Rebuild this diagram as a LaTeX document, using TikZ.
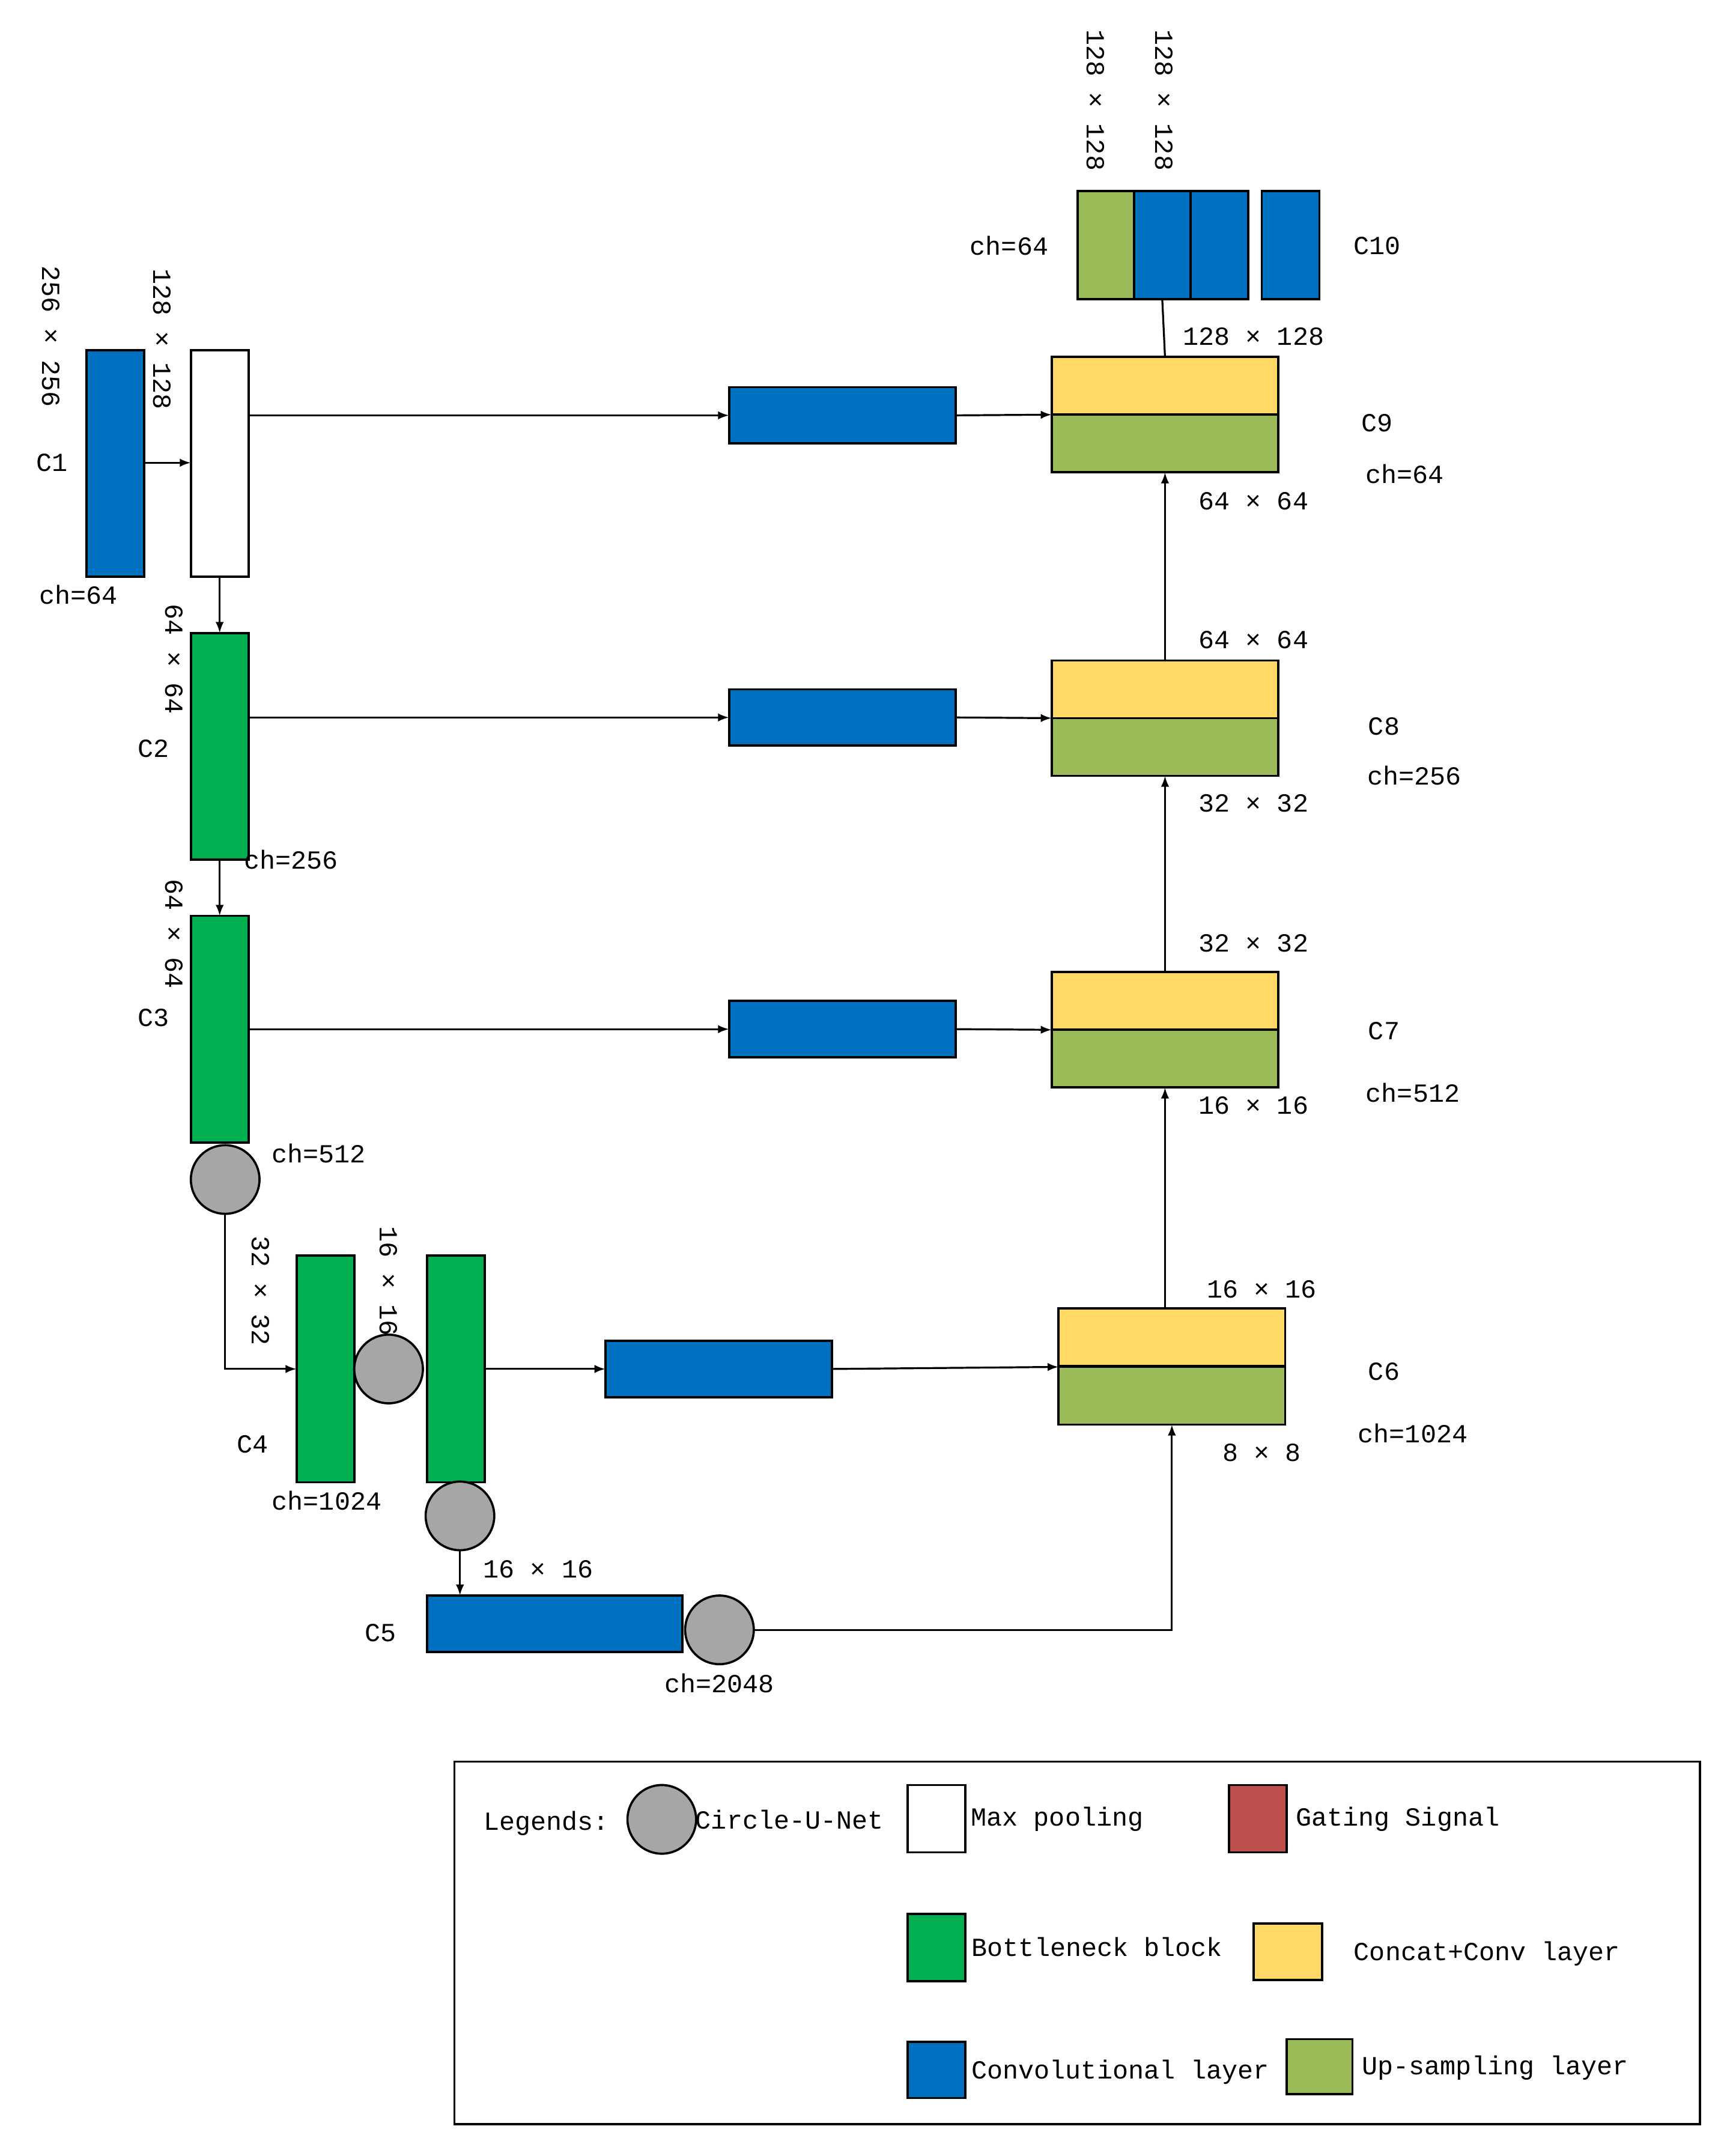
\documentclass[tikz,border=0pt]{standalone}
\usepackage{fontspec}
\setmainfont{Liberation Mono}
\usetikzlibrary{arrows.meta}
\definecolor{cblue}{HTML}{0070C0}
\definecolor{cgreen}{HTML}{00B050}
\definecolor{cyel}{HTML}{FFD966}
\definecolor{clg}{HTML}{9BBB59}
\definecolor{cgray}{HTML}{A6A6A6}
\definecolor{cred}{HTML}{C0504D}
\begin{document}
\begin{tikzpicture}[x=1pt,y=-1pt,
  box/.style={draw=black,line width=1.6pt,inner sep=0,outer sep=0},
  vbox/.style={box,minimum width=42pt,minimum height=165pt},
  hbox/.style={box,minimum width=165pt,minimum height=41pt},
  half/.style={box,minimum width=165pt,minimum height=42pt},
  circ/.style={draw=black,line width=1.6pt,fill=cgray,circle,minimum size=50pt,inner sep=0,outer sep=0},
  lab/.style={font=\fontsize{19}{22}\selectfont,inner sep=0},
  rlab/.style={lab,rotate=-90},
  arr/.style={line width=1.4pt,-{Latex[length=8pt,width=6pt]}},
  ln/.style={line width=1.4pt}]
\useasboundingbox (0,0) rectangle (1264,1568);
% encoder
\node[vbox,fill=cblue] (c1) at (84,337.5) {};
\node[vbox,fill=white] (mp) at (160,337.5) {};
\node[vbox,fill=cgreen] (c2) at (160,543.5) {};
\node[vbox,fill=cgreen] (c3) at (160,749.5) {};
\node[circ] (k1) at (164,859) {};
\node[vbox,fill=cgreen] (c4) at (237,997) {};
\node[circ] (k2) at (283,997) {};
\node[vbox,fill=cgreen] (c4b) at (332,997) {};
\node[circ] (k3) at (335,1104) {};
\node[box,fill=cblue,minimum width=186pt,minimum height=41pt] (c5) at (404,1182.5) {};
\node[circ] (k4) at (524,1187) {};
\node[lab] at (38,337) {C1};
\node[rlab] at (37,245) {256 × 256};
\node[lab] at (57,433) {ch=64};
\node[rlab] at (118,247) {128 × 128};
\node[rlab] at (127,480) {64 × 64};
\node[lab] at (112,545) {C2};
\node[lab] at (212,626) {ch=256};
\node[rlab] at (127,680) {64 × 64};
\node[lab] at (112,741) {C3};
\node[lab] at (232,840) {ch=512};
\node[rlab] at (190,940) {32 × 32};
\node[lab] at (184,1052) {C4};
\node[lab] at (238,1093) {ch=1024};
\node[rlab] at (283,933) {16 × 16};
\node[lab] at (277,1189) {C5};
\node[lab] at (392,1143) {16 × 16};
\node[lab] at (524,1226) {ch=2048};
% skip blue boxes
\node[hbox,fill=cblue] (b9) at (613.5,302.5) {};
\node[hbox,fill=cblue] (b8) at (613.5,522.5) {};
\node[hbox,fill=cblue] (b7) at (613.5,749.5) {};
\node[hbox,fill=cblue] (b6) at (523.5,997) {};
% decoder
\node[half,fill=cyel] (y9) at (848.5,281) {};
\node[half,fill=clg] (g9) at (848.5,323) {};
\node[half,fill=cyel] (y8) at (848.5,502) {};
\node[half,fill=clg] (g8) at (848.5,544) {};
\node[half,fill=cyel] (y7) at (848.5,729) {};
\node[half,fill=clg] (g7) at (848.5,771) {};
\node[half,fill=cyel] (y6) at (853.5,974) {};
\node[half,fill=clg] (g6) at (853.5,1016.5) {};
\node[lab] at (919,939) {16 × 16};
\node[lab] at (1008,999) {C6};
\node[lab] at (1029,1044) {ch=1024};
\node[lab] at (919,1058) {8 × 8};
\node[lab] at (913,687) {32 × 32};
\node[lab] at (913,805) {16 × 16};
\node[lab] at (1008,751) {C7};
\node[lab] at (1029,796) {ch=512};
\node[lab] at (913,466) {64 × 64};
\node[lab] at (913,585) {32 × 32};
\node[lab] at (1008,529) {C8};
\node[lab] at (1030,565) {ch=256};
\node[lab] at (913,245) {128 × 128};
\node[lab] at (913,365) {64 × 64};
\node[lab] at (1003,308) {C9};
\node[lab] at (1023,345) {ch=64};
% C10
\node[box,fill=clg,minimum width=41pt,minimum height=79pt] (t1) at (805.5,178.5) {};
\node[box,fill=cblue,minimum width=41pt,minimum height=79pt] (t2) at (846.5,178.5) {};
\node[box,fill=cblue,minimum width=42pt,minimum height=79pt] (t3) at (888,178.5) {};
\node[box,fill=cblue,minimum width=42pt,minimum height=79pt] (t4) at (940,178.5) {};
\node[lab] at (735,179) {ch=64};
\node[lab] at (1003,179) {C10};
\node[rlab] at (798,73) {128 × 128};
\node[rlab] at (848,73) {128 × 128};
% connectors
\draw[arr] (c1.east |- 0,337) -- (mp.west |- 0,337);
\draw[arr] (mp.south) -- (c2.north);
\draw[arr] (c2.south) -- (c3.north);
\draw[arr] (k1.south) |- (c4.west);
\draw[arr] (k3.south) -- (k3.south |- c5.north);
\draw[arr] (k4.east) -| (g6.south);
\draw[arr] (c4b.east) -- (b6.west);
\draw[arr] (b6.east) -- (g6.north west);
\draw[arr] (mp.east |- b9) -- (b9.west);
\draw[arr] (b9.east) -- (g9.north west);
\draw[arr] (c2.east |- b8) -- (b8.west);
\draw[arr] (b8.east) -- (g8.north west);
\draw[arr] (c3.east |- b7) -- (b7.west);
\draw[arr] (b7.east) -- (g7.north west);
\draw[arr] (y6.north -| g7.south) -- (g7.south);
\draw[arr] (y7.north) -- (g8.south);
\draw[arr] (y8.north) -- (g9.south);
\draw[ln] (y9.north) -- (t2.south);
% legend
\node[box,minimum width=907pt,minimum height=264pt] (leg) at (784.5,1415) {};
\node[lab] at (398,1328) {Legends:};
\node[circ] (lc) at (482,1325) {};
\node[lab] at (575,1325) {Circle-U-Net};
\node[box,fill=white,minimum width=42pt,minimum height=49pt] (lw) at (682,1324.5) {};
\node[lab] at (770,1325) {Max pooling};
\node[box,fill=cred,minimum width=42pt,minimum height=49pt] (lr) at (916,1324.5) {};
\node[lab] at (1018,1325) {Gating Signal};
\node[box,fill=cgreen,minimum width=42pt,minimum height=49pt] (lgr) at (682,1418.5) {};
\node[lab] at (799,1418) {Bottleneck block};
\node[box,fill=cyel,minimum width=50pt,minimum height=41pt] (ly) at (938,1421.5) {};
\node[lab] at (1083,1423) {Concat+Conv layer};
\node[box,fill=cblue,minimum width=42pt,minimum height=41pt] (lb) at (682,1507.5) {};
\node[lab] at (816,1509) {Convolutional layer};
\node[box,fill=clg,minimum width=48pt,minimum height=40pt] (llg) at (961,1505) {};
\node[lab] at (1089,1506) {Up-sampling layer};
\end{tikzpicture}
\end{document}
